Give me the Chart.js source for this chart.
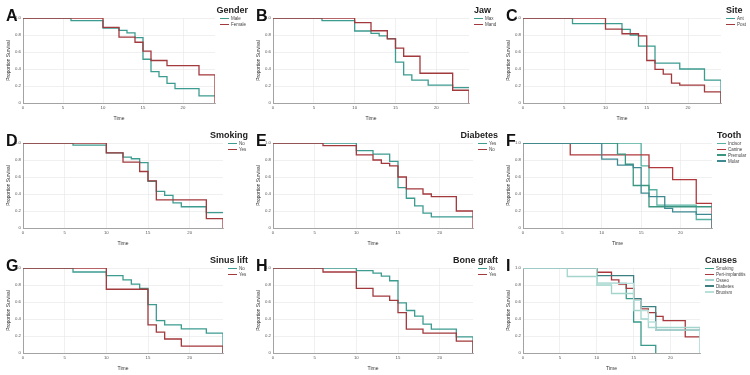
<!DOCTYPE html>
<html>
<head>
<meta charset="utf-8">
<script src="https://cdn.jsdelivr.net/npm/chart.js@4.4.1/dist/chart.umd.min.js"></script>
<style>
  html, body { margin:0; padding:0; background:#fff; }
  #grid { position:relative; width:750px; height:375px; overflow:hidden; font-family:"Liberation Sans", Arial, sans-serif; }
  .panel { position:absolute; width:250px; height:125px; }
  .panel canvas { position:absolute; left:0; top:0; }
  .letter { position:absolute; left:6px; top:8px; font-size:16px; line-height:16px; font-weight:bold; color:#111; }
  .ltitle { position:absolute; top:5px; font-size:9px; line-height:10px; font-weight:bold; color:#222; white-space:nowrap; }
  .litem { position:absolute; width:40px; height:6px; }
  .litem .sw { position:absolute; left:0; top:2.4px; width:9px; height:1.3px; }
  .litem .tx { position:absolute; left:11px; top:-3px; font-size:9px; line-height:12px; color:#444; white-space:nowrap; transform:scale(0.5); transform-origin:0 50%; }
</style>
</head>
<body>
<div id="grid"></div>
<script>
// ---------- data ----------
const TEAL = '#3d9c90';
const RED = '#a2393d';

// A: Gender
const genderMaleTime = [0,6,10,12,13,14,15,16,17,18,19,22,24];
const genderMaleSurv = [1,0.97,0.88,0.855,0.825,0.77,0.515,0.37,0.31,0.23,0.17,0.085,0.085];
const genderFemaleTime = [0,10,12,14,15,16,18,22,24];
const genderFemaleSurv = [1,0.89,0.775,0.715,0.61,0.5,0.44,0.33,0];

// B: Jaw
const jawMaxTime = [0,6,10,12,13,14,15,16,17,19,22,24];
const jawMaxSurv = [1,0.97,0.847,0.82,0.79,0.757,0.48,0.33,0.27,0.21,0.18,0.18];
const jawMandTime = [0,10,12,14,15,16,18,22,24];
const jawMandSurv = [1,0.945,0.85,0.755,0.645,0.55,0.35,0.15,0];

// C: Site
const siteAntTime = [0,6,12,13,14,16,19,22,24];
const siteAntSurv = [1,0.933,0.867,0.8,0.67,0.47,0.4,0.27,0];
const sitePostTime = [0,10,12,14,15,16,17,18,19,22,24];
const sitePostSurv = [1,0.87,0.815,0.79,0.5,0.395,0.34,0.235,0.21,0.13,0];

// D: Smoking
const smokeNoTime = [0,6,10,12,13,14,15,16,17,18,19,22,24];
const smokeNoSurv = [1,0.975,0.885,0.835,0.815,0.77,0.55,0.43,0.385,0.295,0.25,0.18,0.18];
const smokeYesTime = [0,10,12,14,15,16,22,24];
const smokeYesSurv = [1,0.885,0.775,0.665,0.555,0.33,0.11,0];

// E: Diabetes
const diabYesTime = [0,10,12,14,15,16,17,18,19,24];
const diabYesSurv = [1,0.91,0.87,0.785,0.475,0.35,0.26,0.175,0.13,0.13];
const diabNoTime = [0,6,10,12,13,14,15,16,18,19,22,24];
const diabNoSurv = [1,0.97,0.86,0.8,0.76,0.73,0.6,0.46,0.4,0.37,0.2,0];

// F: Tooth
const incisorTime = [0,15,16,17,22,24];
const incisorSurv = [1,0.73,0.45,0.27,0.1,0.1];
const canineTime = [0,6,16,19,22,24];
const canineSurv = [1,0.86,0.71,0.57,0.29,0];
const premolarTime = [0,12,13,14,16,24];
const premolarSurv = [1,0.87,0.75,0.5,0.25,0.25];
const molarTime = [0,10,12,14,15,16,18,19,22,24];
const molarSurv = [1,0.81,0.74,0.71,0.41,0.37,0.23,0.19,0.16,0];

// G: Sinus lift
const sinusNoTime = [0,6,10,12,13,14,15,16,17,19,22,24];
const sinusNoSurv = [1,0.953,0.91,0.86,0.81,0.76,0.57,0.38,0.33,0.285,0.235,0];
const sinusYesTime = [0,10,15,16,17,19,24];
const sinusYesSurv = [1,0.75,0.33,0.245,0.165,0.08,0];

// H: Bone graft
const graftNoTime = [0,10,12,13,14,15,16,17,18,19,22,24];
const graftNoSurv = [1,0.97,0.94,0.905,0.85,0.59,0.5,0.435,0.34,0.28,0.19,0];
const graftYesTime = [0,6,10,12,14,15,16,18,22,24];
const graftYesSurv = [1,0.953,0.76,0.67,0.62,0.475,0.28,0.235,0.14,0];

// I: Causes
const causeSmokingTime = [0,10,14,15,16,18];
const causeSmokingSurv = [1,0.82,0.64,0.365,0.09,0];
const causePeriTime = [0,10,12,13,14,15,16,17,18,19,22,24];
const causePeriSurv = [1,0.95,0.86,0.81,0.76,0.62,0.52,0.475,0.43,0.38,0.19,0.19];
const causeOsseoTime = [0,6,10,12,15,16,17,22,24];
const causeOsseoSurv = [1,0.9,0.8,0.7,0.5,0.4,0.3,0.3,0];
const causeDiabTime = [0,10,15,16,18,24];
const causeDiabSurv = [1,0.91,0.64,0.545,0.27,0.27];
const causeBruxTime = [0,10,15,16,17,18,24];
const causeBruxSurv = [1,0.82,0.62,0.5,0.365,0.27,0];

const xTickStep = 5;
const yTickStep = 0.2;

const panels = [
  {letter:'A', title:'Gender', series:[
    {label:'Male', color:TEAL, t:genderMaleTime, s:genderMaleSurv},
    {label:'Female', color:RED, t:genderFemaleTime, s:genderFemaleSurv}]},
  {letter:'B', title:'Jaw', series:[
    {label:'Max', color:TEAL, t:jawMaxTime, s:jawMaxSurv},
    {label:'Mand', color:RED, t:jawMandTime, s:jawMandSurv}]},
  {letter:'C', title:'Site', series:[
    {label:'Ant', color:TEAL, t:siteAntTime, s:siteAntSurv},
    {label:'Post', color:RED, t:sitePostTime, s:sitePostSurv}]},
  {letter:'D', title:'Smoking', series:[
    {label:'No', color:TEAL, t:smokeNoTime, s:smokeNoSurv},
    {label:'Yes', color:RED, t:smokeYesTime, s:smokeYesSurv}]},
  {letter:'E', title:'Diabetes', series:[
    {label:'Yes', color:TEAL, t:diabYesTime, s:diabYesSurv},
    {label:'No', color:RED, t:diabNoTime, s:diabNoSurv}]},
  {letter:'F', title:'Tooth', series:[
    {label:'Incisor', color:'#57b0a2', t:incisorTime, s:incisorSurv},
    {label:'Canine', color:'#b0383c', t:canineTime, s:canineSurv},
    {label:'Premolar', color:'#3a9680', t:premolarTime, s:premolarSurv},
    {label:'Molar', color:'#3f8a92', t:molarTime, s:molarSurv}]},
  {letter:'G', title:'Sinus lift', series:[
    {label:'No', color:TEAL, t:sinusNoTime, s:sinusNoSurv},
    {label:'Yes', color:RED, t:sinusYesTime, s:sinusYesSurv}]},
  {letter:'H', title:'Bone graft', series:[
    {label:'No', color:TEAL, t:graftNoTime, s:graftNoSurv},
    {label:'Yes', color:RED, t:graftYesTime, s:graftYesSurv}]},
  {letter:'I', title:'Causes', series:[
    {label:'Smoking', color:'#3a9a8a', t:causeSmokingTime, s:causeSmokingSurv},
    {label:'Peri-implantitis', color:'#a8383c', t:causePeriTime, s:causePeriSurv},
    {label:'Osseo', color:'#a3d5cd', t:causeOsseoTime, s:causeOsseoSurv},
    {label:'Diabetes', color:'#3b7f80', t:causeDiabTime, s:causeDiabSurv},
    {label:'Bruxism', color:'#b8e0da', t:causeBruxTime, s:causeBruxSurv}]}
];

// ---------- drawing ----------
const FONT = '"Liberation Sans", Arial, sans-serif';
Chart.defaults.font.family = FONT;
const measureCtx = document.createElement('canvas').getContext('2d');
function textWidth(txt, font) { measureCtx.font = font; return measureCtx.measureText(txt).width; }

const grid = document.getElementById('grid');
panels.forEach((p, idx) => {
  const W = 250, H = 125;
  const div = document.createElement('div');
  div.className = 'panel';
  div.style.left = (idx % 3) * W + 'px';
  div.style.top = Math.floor(idx / 3) * H + 'px';
  grid.appendChild(div);

  const canvas = document.createElement('canvas');
  canvas.width = W; canvas.height = H;
  canvas.style.width = W + 'px'; canvas.style.height = H + 'px';
  div.appendChild(canvas);

  const maxLabelW = Math.max(...p.series.map(s => textWidth(s.label, '9px ' + FONT) / 2));
  const padRight = Math.round(maxLabelW + 20);
  const plotRight = W - padRight;

  new Chart(canvas.getContext('2d'), {
    type: 'line',
    data: {
      datasets: p.series.map((s, i) => ({
        label: s.label,
        data: s.t.map((t, j) => ({x: t, y: s.s[j]})),
        borderColor: s.color,
        backgroundColor: s.color,
        borderWidth: 1.3,
        stepped: true,
        fill: false,
        pointRadius: 0,
        order: -i
      }))
    },
    options: {
      responsive: false,
      animation: false,
      devicePixelRatio: 1,
      layout: { padding: { top: 18, right: padRight, bottom: 3, left: 3 } },
      plugins: { legend: { display: false }, tooltip: { enabled: false }, title: { display: false } },
      scales: {
        x: {
          type: 'linear', min: 0, max: 24,
          ticks: { stepSize: xTickStep, includeBounds: false, font: { size: 4.3 }, color: '#555', padding: 2, maxRotation: 0, autoSkip: false },
          grid: { color: '#e9e9e9', lineWidth: 0.7, drawTicks: false },
          border: { color: '#a3a3a3', width: 1 },
          title: { display: true, text: 'Time', font: { size: 5 }, color: '#333', padding: { top: 0, bottom: 0 } },
          afterFit: (s) => { s.height = 19; }
        },
        y: {
          type: 'linear', min: 0, max: 1,
          ticks: { stepSize: yTickStep, font: { size: 4.3 }, color: '#555', padding: 2 },
          grid: { color: '#e9e9e9', lineWidth: 0.7, drawTicks: false },
          border: { color: '#a3a3a3', width: 1 },
          title: { display: true, text: 'Proportion Survival', font: { size: 4.8 }, color: '#333', padding: { top: 3, bottom: 0 } },
          afterFit: (s) => { s.width = 20; }
        }
      }
    }
  });

  const letter = document.createElement('div');
  letter.className = 'letter';
  letter.textContent = p.letter;
  div.appendChild(letter);

  const legendLeft = plotRight + 5;
  const tW = textWidth(p.title, 'bold 9px ' + FONT);
  const title = document.createElement('div');
  title.className = 'ltitle';
  title.textContent = p.title;
  title.style.left = Math.min(legendLeft, 248 - tW) + 'px';
  div.appendChild(title);

  p.series.forEach((s, i) => {
    const it = document.createElement('div');
    it.className = 'litem';
    it.style.left = legendLeft + 'px';
    it.style.top = (15.3 + i * 5.9) + 'px';
    const sw = document.createElement('span');
    sw.className = 'sw';
    sw.style.background = s.color;
    const tx = document.createElement('span');
    tx.className = 'tx';
    tx.textContent = s.label;
    it.appendChild(sw); it.appendChild(tx);
    div.appendChild(it);
  });
});
</script>
</body>
</html>
